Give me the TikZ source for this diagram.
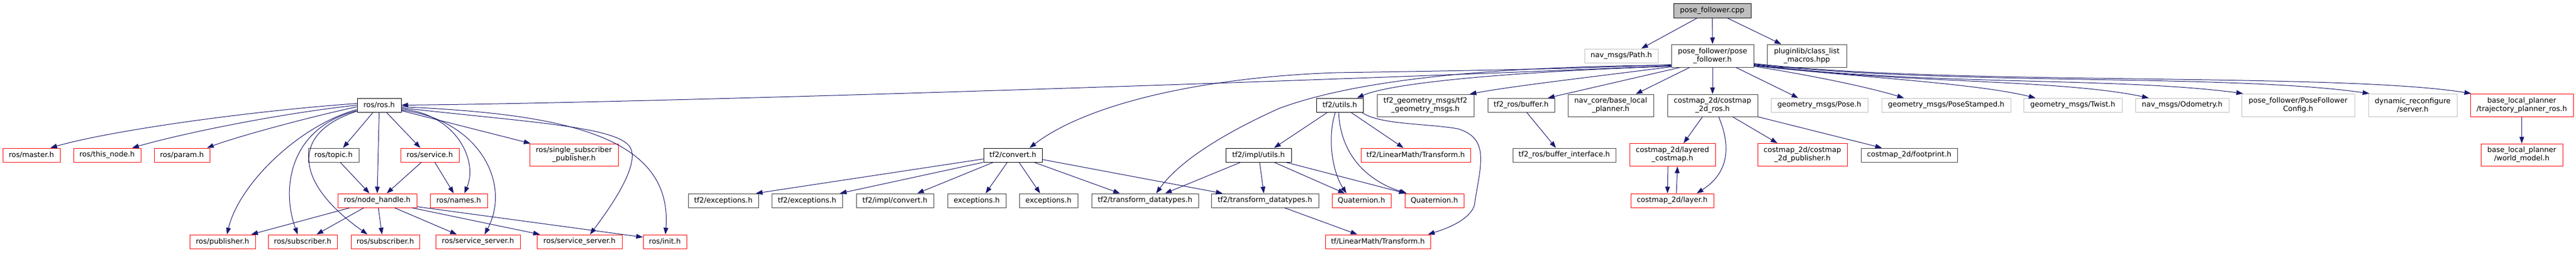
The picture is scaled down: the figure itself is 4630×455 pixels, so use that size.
\documentclass[tikz,border=0pt]{standalone}
\usepackage{fontspec}
\setmainfont{DejaVu Sans}
\usetikzlibrary{arrows.meta}
\definecolor{edgec}{HTML}{191970}
\definecolor{dkgray}{HTML}{404040}
\definecolor{ltgray}{HTML}{BFBFBF}
\definecolor{nodered}{HTML}{FF0000}
\newcommand{\dgf}{\fontsize{13}{15}\selectfont}
\tikzset{
  nd/.style={rectangle, inner sep=0pt, align=center, fill=white, line width=1pt, font=\dgf, text=black},
  bk/.style={nd, draw=black},
  dk/.style={nd, draw=dkgray},
  rd/.style={nd, draw=nodered},
  gr/.style={nd, draw=ltgray},
  sz/.style 2 args={minimum width=#1pt, minimum height=#2pt},
  dep/.style={draw=edgec, line width=1pt, -{Triangle[length=12pt,width=8.5pt]}},
}
\begin{document}
\begin{tikzpicture}[x=1pt,y=-1pt]
\useasboundingbox[fill=white] (0,0) rectangle (4630,455);
% row 0
\node[bk, fill=ltgray, sz={139}{26}] (pfc) at (3077.5,19) {pose\_follower.cpp};
% row 1
\node[gr, sz={132}{25}] (path) at (2914,100.5) {nav\_msgs/Path.h};
\node[dk, sz={148}{41}] (pfh) at (3078,100.5) {pose\_follower/pose\\\_follower.h};
\node[dk, sz={143}{41}] (plug) at (3247.5,100.5) {pluginlib/class\_list\\\_macros.hpp};
% row 2
\node[bk, sz={79}{25}] (rosh) at (681.5,189.5) {ros/ros.h};
\node[bk, sz={84}{25}] (utils) at (2408,189.5) {tf2/utils.h};
\node[dk, sz={174}{40}] (tgm) at (2562,190) {tf2\_geometry\_msgs/tf2\\\_geometry\_msgs.h};
\node[dk, sz={120}{25}] (buf) at (2734,189.5) {tf2\_ros/buffer.h};
\node[dk, sz={154}{40}] (nav) at (2895,190) {nav\_core/base\_local\\\_planner.h};
\node[dk, sz={162}{40}] (cros) at (3078,190) {costmap\_2d/costmap\\\_2d\_ros.h};
\node[gr, sz={174}{25}] (pose) at (3270,189.5) {geometry\_msgs/Pose.h};
\node[gr, sz={232}{25}] (posest) at (3498,189.5) {geometry\_msgs/PoseStamped.h};
\node[gr, sz={177}{25}] (twist) at (3725.5,189.5) {geometry\_msgs/Twist.h};
\node[gr, sz={168}{25}] (odom) at (3922,189.5) {nav\_msgs/Odometry.h};
\node[gr, sz={203}{41}] (pfcfg) at (4130.5,189.5) {pose\_follower/PoseFollower\\Config.h};
\node[gr, sz={159}{41}] (dyn) at (4336.5,189.5) {dynamic\_reconfigure\\/server.h};
\node[rd, sz={185}{41}] (tpr) at (4532.5,189.5) {base\_local\_planner\\/trajectory\_planner\_ros.h};
% row 3
\node[rd, sz={103}{25}] (master) at (56.5,279.5) {ros/master.h};
\node[rd, sz={121}{25}] (thisn) at (192.5,279.5) {ros/this\_node.h};
\node[rd, sz={100}{25}] (param) at (327,279.5) {ros/param.h};
\node[dk, sz={91}{25}] (topic) at (599.5,279.5) {ros/topic.h};
\node[rd, sz={105}{25}] (service) at (772.5,279.5) {ros/service.h};
\node[rd, sz={159}{40}] (ssp) at (1031.5,279) {ros/single\_subscriber\\\_publisher.h};
\node[bk, sz={105}{25}] (convert) at (1820.5,279.5) {tf2/convert.h};
\node[bk, sz={118}{25}] (iutils) at (2262,279.5) {tf2/impl/utils.h};
\node[rd, sz={197}{25}] (lmt2) at (2544.5,279.5) {tf2/LinearMath/Transform.h};
\node[dk, sz={185}{25}] (bufi) at (2811.5,279.5) {tf2\_ros/buffer\_interface.h};
\node[rd, sz={154}{41}] (layered) at (3006,279) {costmap\_2d/layered\\\_costmap.h};
\node[rd, sz={161}{41}] (cpub) at (3239.5,279) {costmap\_2d/costmap\\\_2d\_publisher.h};
\node[dk, sz={173}{25}] (foot) at (3431.5,279.5) {costmap\_2d/footprint.h};
\node[rd, sz={147}{40}] (wm) at (4532.5,279) {base\_local\_planner\\/world\_model.h};
% row 4
\node[rd, sz={142}{25}] (nh) at (678,361.5) {ros/node\_handle.h};
\node[rd, sz={103}{25}] (names) at (824.5,361.5) {ros/names.h};
\node[dk, sz={126}{25}] (exc1) at (1300,361.5) {tf2/exceptions.h};
\node[dk, sz={127}{25}] (exc2) at (1450.5,361.5) {tf2/exceptions.h};
\node[dk, sz={139}{25}] (iconv) at (1608.5,361.5) {tf2/impl/convert.h};
\node[dk, sz={105}{25}] (excA) at (1755.5,361.5) {exceptions.h};
\node[dk, sz={105}{25}] (excB) at (1884.5,361.5) {exceptions.h};
\node[dk, sz={192}{25}] (tdA) at (2058,361.5) {tf2/transform\_datatypes.h};
\node[dk, sz={193}{25}] (tdB) at (2273.5,361.5) {tf2/transform\_datatypes.h};
\node[rd, sz={106}{25}] (quatA) at (2447,361.5) {Quaternion.h};
\node[rd, sz={106}{25}] (quatB) at (2578,361.5) {Quaternion.h};
\node[rd, sz={149}{25}] (layer) at (3005.5,361.5) {costmap\_2d/layer.h};
% row 5
\node[rd, sz={118}{25}] (pub) at (400,435.5) {ros/publisher.h};
\node[rd, sz={124}{25}] (sub1) at (544,435.5) {ros/subscriber.h};
\node[rd, sz={123}{25}] (sub2) at (692.5,435.5) {ros/subscriber.h};
\node[rd, sz={152}{25}] (ss1) at (859,435.5) {ros/service\_server.h};
\node[rd, sz={153}{25}] (ss2) at (1041.5,435.5) {ros/service\_server.h};
\node[rd, sz={78}{25}] (init) at (1195,435.5) {ros/init.h};
\node[rd, sz={189}{25}] (lmt) at (2476.5,435.5) {tf/LinearMath/Transform.h};

% edges from pose_follower.cpp
\draw[dep] ([xshift=-27pt]pfc.south) -- ([xshift=36pt]path.north);
\draw[dep] (pfc.south) -- (pfh.north);
\draw[dep] ([xshift=27pt]pfc.south) -- ([xshift=-46pt]plug.north);
% edges from pose_follower.h, left
\draw[dep] ([yshift=3pt]pfh.south west) .. controls (2400,145) and (1200,185) .. (rosh.east);
\draw[dep] ([yshift=5pt]pfh.south west) .. controls (2800,125) and (2600,128) .. (2400,131) .. controls (2150,140) and (1950,190) .. ([xshift=30pt]convert.north);
\draw[dep] ([yshift=4pt]pfh.south west) .. controls (2700,120) and (2450,140) .. (2300,195) .. controls (2200,240) and (2120,290) .. ([xshift=20pt]tdA.north);
\draw[dep] ([yshift=2pt]pfh.south west) .. controls (2700,130) and (2500,150) .. ([xshift=31pt]utils.north);
\draw[dep] ([yshift=1pt]pfh.south west) .. controls (2850,140) and (2720,155) .. ([xshift=-8pt]tgm.north east);
\draw[dep] ([xshift=-58pt]pfh.south) -- ([xshift=48pt]buf.north);
\draw[dep] ([xshift=-41pt]pfh.south) -- ([xshift=45pt]nav.north);
\draw[dep] (pfh.south) -- (cros.north);
\draw[dep] ([xshift=42pt]pfh.south) -- ([xshift=-38pt]pose.north);
% edges from pose_follower.h, right
\draw[dep] ([yshift=2pt]pfh.south east) .. controls (3250,135) and (3350,155) .. ([xshift=-76pt]posest.north);
\draw[dep] ([yshift=3pt]pfh.south east) .. controls (3350,140) and (3550,150) .. ([xshift=-67pt]twist.north);
\draw[dep] ([yshift=4pt]pfh.south east) .. controls (3400,150) and (3700,142) .. ([xshift=-60pt]odom.north);
\draw[dep] ([yshift=5pt]pfh.south east) .. controls (3450,155) and (3800,138) .. ([xshift=3pt]pfcfg.north west);
\draw[dep] ([yshift=6pt]pfh.south east) .. controls (3500,155) and (4000,132) .. ([xshift=2pt]dyn.north west);
\draw[dep] ([yshift=7pt]pfh.south east) .. controls (3500,155) and (4200,130) .. ([xshift=2pt]tpr.north west);
% edges from ros/ros.h
\draw[dep] ([yshift=3pt]rosh.west) .. controls (450,200) and (200,235) .. ([xshift=34pt]master.north);
\draw[dep] (rosh.west) .. controls (500,205) and (330,240) .. ([xshift=45pt]thisn.north);
\draw[dep] ([yshift=-3pt]rosh.west) .. controls (560,210) and (430,245) .. ([xshift=45pt]param.north);
\draw[dep] ([xshift=-11pt]rosh.south) -- ([xshift=17pt]topic.north);
\draw[dep] (rosh.south) -- (nh.north);
\draw[dep] ([xshift=13pt]rosh.south) -- ([xshift=-17pt]service.north);
\draw[dep] ([yshift=-7pt]rosh.east) .. controls (820,205) and (860,290) .. ([xshift=10pt]names.north);
\draw[dep] ([yshift=-10pt]rosh.east) -- ([xshift=2pt]ssp.north west);
\draw[dep] ([yshift=-8pt]rosh.west) .. controls (540,225) and (430,330) .. ([xshift=8pt]pub.north);
\draw[dep] ([yshift=-10pt]rosh.west) .. controls (520,230) and (505,340) .. ([xshift=-9pt]sub1.north);
\draw[dep] ([yshift=-11pt]rosh.west) .. controls (520,240) and (530,330) .. ([xshift=-32pt]sub2.north);
\draw[dep] ([yshift=-9pt]rosh.east) .. controls (860,215) and (920,330) .. ([xshift=12pt]ss1.north);
\draw[dep] ([yshift=-5pt]rosh.east) .. controls (950,220) and (1100,228) .. (1130,262) .. controls (1155,290) and (1100,370) .. ([xshift=19pt]ss2.north);
\draw[dep] ([yshift=-3pt]rosh.east) .. controls (1000,205) and (1210,240) .. ([xshift=1pt]init.north);
% topic, service
\draw[dep] ([xshift=12pt]topic.south) -- ([xshift=-14pt]nh.north);
\draw[dep] ([xshift=-15pt]service.south) -- ([xshift=17pt]nh.north);
\draw[dep] ([xshift=9pt]service.south) -- ([xshift=-9pt]names.north);
% node_handle
\draw[dep] ([xshift=-49pt]nh.south) -- ([xshift=-8pt]pub.north east);
\draw[dep] ([xshift=-24pt]nh.south) -- ([xshift=25pt]sub1.north);
\draw[dep] ([xshift=2pt]nh.south) -- ([xshift=-6pt]sub2.north);
\draw[dep] ([xshift=31pt]nh.south) -- ([xshift=-38pt]ss1.north);
\draw[dep] ([xshift=62pt]nh.south) -- ([xshift=-71pt]ss2.north);
\draw[dep] ([yshift=2pt]nh.south east) -- ([yshift=8pt]init.west);
% tf2/convert.h
\draw[dep] ([yshift=-7pt]convert.west) -- ([xshift=-5pt]exc1.north east);
\draw[dep] (convert.south west) -- ([xshift=-5pt]exc2.north east);
\draw[dep] ([xshift=-35pt]convert.south) -- ([xshift=40pt]iconv.north);
\draw[dep] ([xshift=-10pt]convert.south) -- ([xshift=16pt]excA.north);
\draw[dep] ([xshift=11pt]convert.south) -- ([xshift=-15pt]excB.north);
\draw[dep] ([xshift=38pt]convert.south) -- ([xshift=-45pt]tdA.north);
\draw[dep] ([yshift=-8pt]convert.east) -- ([xshift=-76pt]tdB.north);
% tf2/impl/utils.h
\draw[dep] ([xshift=-32pt]iutils.south) -- ([xshift=36pt]tdA.north);
\draw[dep] ([xshift=2pt]iutils.south) -- ([xshift=-2pt]tdB.north);
\draw[dep] ([xshift=28pt]iutils.south) -- ([xshift=-30pt]quatA.north);
\draw[dep] ([xshift=49pt]iutils.south) -- ([xshift=2pt]quatB.north west);
% tf2/utils.h
\draw[dep] ([xshift=-22pt]utils.south) -- ([xshift=28pt]iutils.north);
\draw[dep] ([xshift=-8pt]utils.south) .. controls (2385,250) and (2395,310) .. ([xshift=-27pt]quatA.north);
\draw[dep] ([xshift=-2pt]utils.south) .. controls (2410,290) and (2470,330) .. ([xshift=4pt]quatB.north west);
\draw[dep] ([xshift=20pt]utils.south) -- ([xshift=-22pt]lmt2.north);
\draw[dep] ([xshift=-3pt]utils.south east) .. controls (2480,225) and (2560,222) .. (2620,232) .. controls (2680,250) and (2660,300) .. (2650,370) .. controls (2640,400) and (2590,415) .. ([xshift=-5pt]lmt.north east);
% others
\draw[dep] ([xshift=35pt]tdB.south) -- ([xshift=-37pt]lmt.north);
\draw[dep] ([xshift=10pt]buf.south) -- ([xshift=-15pt]bufi.north);
\draw[dep] ([xshift=-18pt]cros.south) -- ([xshift=20pt]layered.north);
\draw[dep] ([xshift=11pt]cros.south) .. controls (3110,260) and (3110,310) .. ([xshift=44pt]layer.north);
\draw[dep] ([xshift=36pt]cros.south) -- ([xshift=-45pt]cpub.north);
\draw[dep] (cros.south east) -- ([xshift=-49pt]foot.north);
\draw[dep] ([xshift=-8pt]layered.south) -- ([xshift=-8.5pt]layer.north);
\draw[dep] ([xshift=7.5pt]layer.north) -- ([xshift=9pt]layered.south);
\draw[dep] (tpr.south) -- (wm.north);
\end{tikzpicture}
\end{document}
